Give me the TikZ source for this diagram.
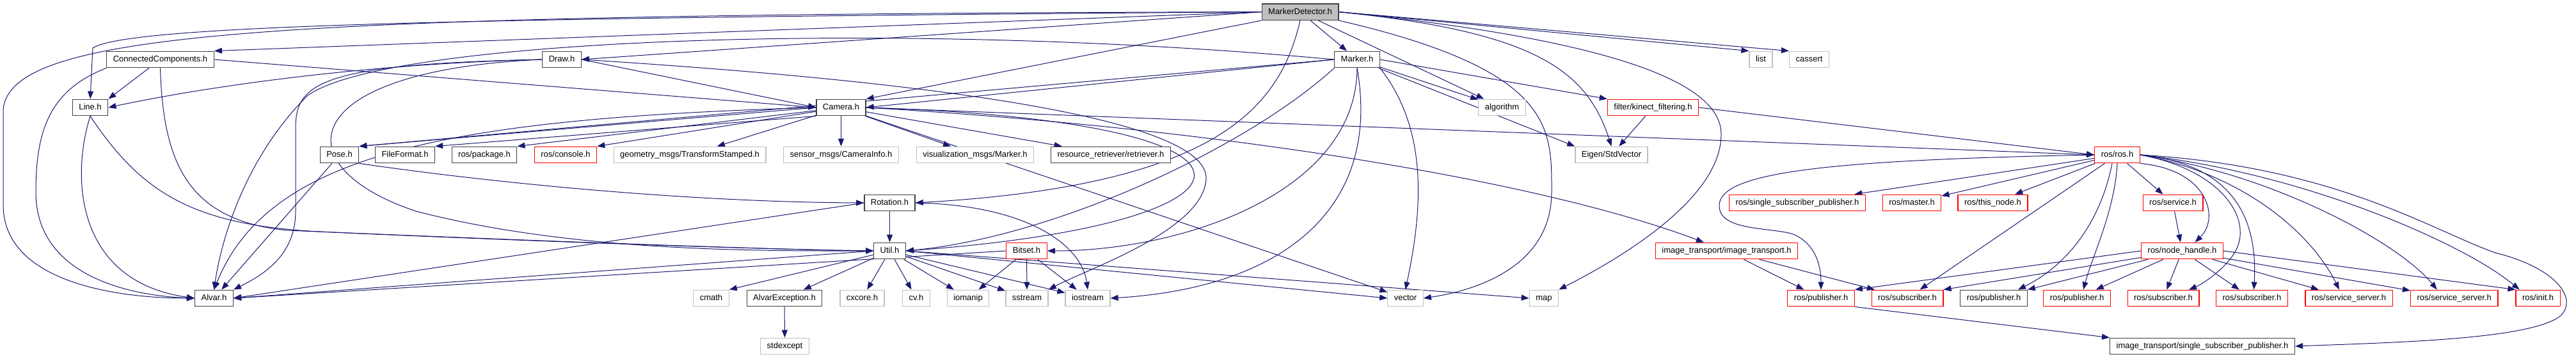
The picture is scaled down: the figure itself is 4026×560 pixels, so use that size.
\documentclass[tikz,border=0pt]{standalone}
\usepackage{fontspec}
\setmainfont{Liberation Sans}
\usepackage{tikz}
\usetikzlibrary{arrows.meta}
\pgfdeclarelayer{bg}
\pgfsetlayers{bg,main}
\definecolor{mnavy}{rgb}{0.1, 0.1, 0.44}
\definecolor{mgrey}{rgb}{0.75, 0.75, 0.75}
\definecolor{mred}{rgb}{1, 0, 0}
\definecolor{mdark}{rgb}{0.25, 0.25, 0.25}
\tikzset{hdr/.style = {draw=mdark, fill=white, line width=1.3pt, rectangle, inner xsep=10pt, inner ysep=0pt,
                       minimum height=25.5pt, text height=9.5pt, text depth=2.5pt,
                       font=\fontsize{13}{15}\selectfont}}
\tikzset{sys/.style = {hdr, draw=mgrey}}
\tikzset{cut/.style = {hdr, draw=mred}}
\tikzset{root/.style = {hdr, fill=mgrey}}
\tikzset{inc/.style = {draw=mnavy, line width=1pt, -{Triangle[length=12pt, width=9pt]}}}

\begin{document}
\begin{tikzpicture}[x=1pt, y=-1pt]
      \useasboundingbox (0, 0) rectangle (4026, 560);

      \node [root] (md) at (2032, 18.6) {MarkerDetector.h};
      \node [hdr] (cc) at (250.5, 93) {ConnectedComponents.h};
      \node [hdr] (drawh) at (878, 93) {Draw.h};
      \node [hdr] (marker) at (2121, 93) {Marker.h};
      \node [sys] (list) at (2752, 93) {list};
      \node [sys] (cassert) at (2827.5, 93) {cassert};
      \node [hdr] (lineh) at (141, 168) {Line.h};
      \node [hdr] (camera) at (1314.5, 168) {Camera.h};
      \node [sys] (algorithm) at (2347.5, 168) {algorithm};
      \node [cut] (kinect) at (2583.5, 168) {filter/kinect\_filtering.h};
      \node [hdr] (pose) at (530.5, 242) {Pose.h};
      \node [hdr] (fileformat) at (633, 242) {FileFormat.h};
      \node [hdr] (rospackage) at (757, 242) {ros/package.h};
      \node [cut] (rosconsole) at (884, 242) {ros/console.h};
      \node [sys] (geomsgs) at (1078, 242) {geometry\_msgs/TransformStamped.h};
      \node [sys] (sensormsgs) at (1314.5, 242) {sensor\_msgs/CameraInfo.h};
      \node [sys] (vismsgs) at (1524, 242) {visualization\_msgs/Marker.h};
      \node [hdr] (retriever) at (1736, 242) {resource\_retriever/retriever.h};
      \node [sys] (eigen) at (2518.5, 242) {Eigen/StdVector};
      \node [cut] (rosros) at (3309, 242) {ros/ros.h};
      \node [hdr] (rotation) at (1390.5, 317) {Rotation.h};
      \node [cut] (rossingle) at (2809, 317) {ros/single\_subscriber\_publisher.h};
      \node [cut] (rosmaster) at (2988, 317) {ros/master.h};
      \node [cut] (thisnode) at (3114.5, 317) {ros/this\_node.h};
      \node [cut] (rosservice) at (3396, 317) {ros/service.h};
      \node [hdr] (util) at (1390.5, 392) {Util.h};
      \node [cut] (bitset) at (1604.5, 392) {Bitset.h};
      \node [cut] (imgtransport) at (2698.5, 392) {image\_transport/image\_transport.h};
      \node [cut] (nodehandle) at (3410.5, 392) {ros/node\_handle.h};
      \node [hdr] (alvar) at (334.5, 466) {Alvar.h};
      \node [sys] (cmath) at (1111.5, 466) {cmath};
      \node [hdr] (alvarexc) at (1226, 466) {AlvarException.h};
      \node [sys] (cxcore) at (1347.5, 466) {cxcore.h};
      \node [sys] (cvh) at (1432, 466) {cv.h};
      \node [sys] (iomanip) at (1513, 466) {iomanip};
      \node [sys] (sstream) at (1605, 466) {sstream};
      \node [sys] (iostream) at (1700, 466) {iostream};
      \node [sys] (vector) at (2196.5, 466) {vector};
      \node [sys] (maph) at (2413, 466) {map};
      \node [cut] (pubA) at (2846, 466) {ros/publisher.h};
      \node [cut] (subA) at (2981, 466) {ros/subscriber.h};
      \node [hdr] (pubB) at (3116, 466) {ros/publisher.h};
      \node [cut] (pubC) at (3246, 466) {ros/publisher.h};
      \node [cut] (subB) at (3381, 466) {ros/subscriber.h};
      \node [cut] (subC) at (3519.5, 466) {ros/subscriber.h};
      \node [cut] (srvA) at (3671, 466) {ros/service\_server.h};
      \node [cut] (srvB) at (3835.7, 466) {ros/service\_server.h};
      \node [cut] (rosinit) at (3966.6, 466) {ros/init.h};
      \node [sys] (stdexcept) at (1226.5, 541) {stdexcept};
      \node [hdr] (itsingle) at (3442, 541) {image\_transport/single\_subscriber\_publisher.h};

      \begin{pgfonlayer}{bg}
      \fill [white] (0, 0) rectangle (4026, 560);

      \draw [inc] (md.west) -- (cc.north east);
      \draw [inc] (md.west) .. controls (700, 28) and (200, 40) .. (145, 75) -- (lineh.north);
      \draw [inc] (md.west) .. controls (400, 22) and (20, 50) .. (5, 170) -- (5, 320) .. controls (5, 440) and (180, 466) .. (alvar.west);
      \draw [inc] (md.west) -- (drawh.east);
      \draw [inc] (md.south west) -- (camera.north east);
      \draw [inc] (md.south) .. controls (2000, 170) and (1900, 290) .. (rotation.east);
      \draw [inc] (md) -- (marker);
      \draw [inc] (md) -- (algorithm);
      \draw [inc] (md.south east) .. controls (2430, 110) and (2425, 200) .. (2425, 300) .. controls (2425, 420) and (2300, 455) .. (vector.east);
      \draw [inc] (md.east) .. controls (2400, 50) and (2480, 110) .. (eigen.north);
      \draw [inc] (md.east) .. controls (2600, 70) and (2690, 150) .. (2690, 210) .. controls (2690, 320) and (2500, 420) .. (maph.north east);
      \draw [inc] (md.east) -- (list.north west);
      \draw [inc] (md.east) -- (cassert.north west);

      \draw [inc] (marker.west) -- (camera.east);
      \draw [inc] (marker.west) -- (pose.north east);
      \draw [inc] (marker.west) .. controls (1400, 30) and (600, 60) .. (480, 150) .. controls (380, 250) and (345, 380) .. (alvar.north);
      \draw [inc] (marker.south west) .. controls (1950, 230) and (1650, 370) .. (util.east);
      \draw [inc] (marker.south) .. controls (2120, 300) and (1850, 392) .. (bitset.east);
      \draw [inc] (marker.south) .. controls (2160, 330) and (2000, 450) .. (iostream.east);
      \draw [inc] (marker.south east) .. controls (2230, 200) and (2225, 320) .. (vector.north);
      \draw [inc] (marker) -- (eigen.north west);
      \draw [inc] (marker) -- (algorithm);
      \draw [inc] (marker.east) -- (kinect.north west);

      \draw [inc] (camera.west) -- (pose.north east);
      \draw [inc] (camera.south west) -- (fileformat.north east);
      \draw [inc] (camera) -- (rospackage.north east);
      \draw [inc] (camera) -- (rosconsole.north east);
      \draw [inc] (camera) -- (geomsgs);
      \draw [inc] (camera) -- (sensormsgs);
      \draw [inc] (camera) -- (vismsgs);
      \draw [inc] (camera) -- (retriever);
      \draw [inc] (camera.west) .. controls (700, 185) and (420, 240) .. (alvar.north);
      \draw [inc] (camera.east) .. controls (2050, 190) and (2000, 350) .. (util.east);
      \draw [inc] (camera.east) -- (rosros.west);
      \draw [inc] (camera.east) .. controls (1900, 200) and (2400, 280) .. (imgtransport);
      \draw [inc] (camera) -- (vector);

      \draw [inc] (drawh.west) .. controls (550, 100) and (300, 140) .. (lineh.east);
      \draw [inc] (drawh.west) .. controls (500, 100) and (462, 130) .. (462, 200) -- (462, 330) .. controls (462, 400) and (410, 430) .. (alvar.north east);
      \draw [inc] (drawh.west) .. controls (460, 110) and (440, 260) .. (650, 330) .. controls (900, 395) and (1200, 392) .. (util.west);
      \draw [inc] (drawh.east) -- (camera.west);
      \draw [inc] (drawh.east) .. controls (1500, 130) and (1890, 190) .. (1885, 280) .. controls (1880, 360) and (1700, 420) .. (sstream.north east);

      \draw [inc] (cc) -- (lineh.north east);
      \draw [inc] (cc.south west) .. controls (80, 140) and (56, 200) .. (56, 300) .. controls (56, 430) and (200, 462) .. (alvar.west);
      \draw [inc] (cc.south) .. controls (255, 250) and (290, 345) .. (450, 360) .. controls (800, 375) and (1200, 390) .. (util.west);
      \draw [inc] (cc.east) -- (camera.west);

      \draw [inc] (lineh.south) .. controls (110, 280) and (120, 440) .. (alvar.west);
      \draw [inc] (lineh.south) .. controls (220, 300) and (300, 352) .. (500, 362) .. controls (800, 376) and (1200, 390) .. (util.west);

      \draw [inc] (pose) -- (alvar);
      \draw [inc] (pose.south east) .. controls (800, 290) and (1100, 316) .. (rotation.west);

      \draw [inc] (rotation) -- (util);
      \draw [inc] (rotation.west) -- (alvar.east);
      \draw [inc] (rotation.east) .. controls (1600, 320) and (1690, 380) .. (iostream.north);

      \draw [inc] (util.west) -- (alvar.east);
      \draw [inc] (util) -- (cmath.north east);
      \draw [inc] (util) -- (alvarexc);
      \draw [inc] (util) -- (cxcore);
      \draw [inc] (util) -- (cvh);
      \draw [inc] (util) -- (iomanip);
      \draw [inc] (util) -- (sstream);
      \draw [inc] (util) -- (iostream);
      \draw [inc] (util.east) -- (vector.west);
      \draw [inc] (util.east) -- (maph.west);

      \draw [inc] (bitset.west) -- (alvar.east);
      \draw [inc] (bitset) -- (iomanip);
      \draw [inc] (bitset) -- (sstream);
      \draw [inc] (bitset) -- (iostream);

      \draw [inc] (alvarexc) -- (stdexcept);

      \draw [inc] (kinect) -- (eigen);
      \draw [inc] (kinect.east) -- (rosros.west);

      \draw [inc] (imgtransport) -- (pubA);
      \draw [inc] (imgtransport) -- (subA);
      \draw [inc] (pubA.south east) -- (itsingle.north west);

      \draw [inc] (rosros) -- (rossingle);
      \draw [inc] (rosros) -- (rosmaster);
      \draw [inc] (rosros) -- (thisnode);
      \draw [inc] (rosros) -- (rosservice);
      \draw [inc] (rosros.south east) .. controls (3450, 265) and (3470, 340) .. ([xshift=20pt]nodehandle.north);
      \draw [inc] (rosros.west) .. controls (2850, 250) and (2690, 270) .. (2687, 320) .. controls (2685, 360) and (2760, 355) .. (2800, 365) .. controls (2840, 380) and (2846, 420) .. (pubA.north);
      \draw [inc] (rosros) -- (subA);
      \draw [inc] ([xshift=-8pt]rosros.south) .. controls (3280, 360) and (3220, 420) .. ([xshift=38pt]pubB.north);
      \draw [inc] (rosros.south) .. controls (3305, 330) and (3270, 400) .. ([xshift=10pt]pubC.north);
      \draw [inc] (rosros.east) .. controls (3470, 265) and (3520, 340) .. (3495, 390) .. controls (3480, 420) and (3440, 445) .. ([xshift=40pt]subB.north);
      \draw [inc] (rosros.east) .. controls (3470, 255) and (3530, 320) .. ([xshift=3pt]subC.north);
      \draw [inc] (rosros.east) .. controls (3500, 270) and (3610, 360) .. ([xshift=-15pt]srvA.north);
      \draw [inc] (rosros.east) .. controls (3550, 270) and (3750, 380) .. ([xshift=-27pt]srvB.north);
      \draw [inc] (rosros.east) .. controls (3600, 270) and (3850, 380) .. ([xshift=-29pt]rosinit.north);
      \draw [inc] (rosros.east) .. controls (3650, 260) and (3800, 360) .. (3900, 395) .. controls (4000, 420) and (4030, 470) .. (4000, 495) .. controls (3950, 530) and (3750, 535) .. (itsingle.east);

      \draw [inc] (rosservice) -- (nodehandle);

      \draw [inc] (nodehandle.west) -- (pubA.north east);
      \draw [inc] (nodehandle) -- (subA.north east);
      \draw [inc] (nodehandle) -- (pubB.north east);
      \draw [inc] (nodehandle) -- (pubC);
      \draw [inc] (nodehandle) -- (subB);
      \draw [inc] (nodehandle) -- (subC);
      \draw [inc] (nodehandle) -- (srvA);
      \draw [inc] (nodehandle) -- (srvB);
      \draw [inc] (nodehandle.east) -- (rosinit.north west);
      \end{pgfonlayer}
    \end{tikzpicture}
\end{document}
